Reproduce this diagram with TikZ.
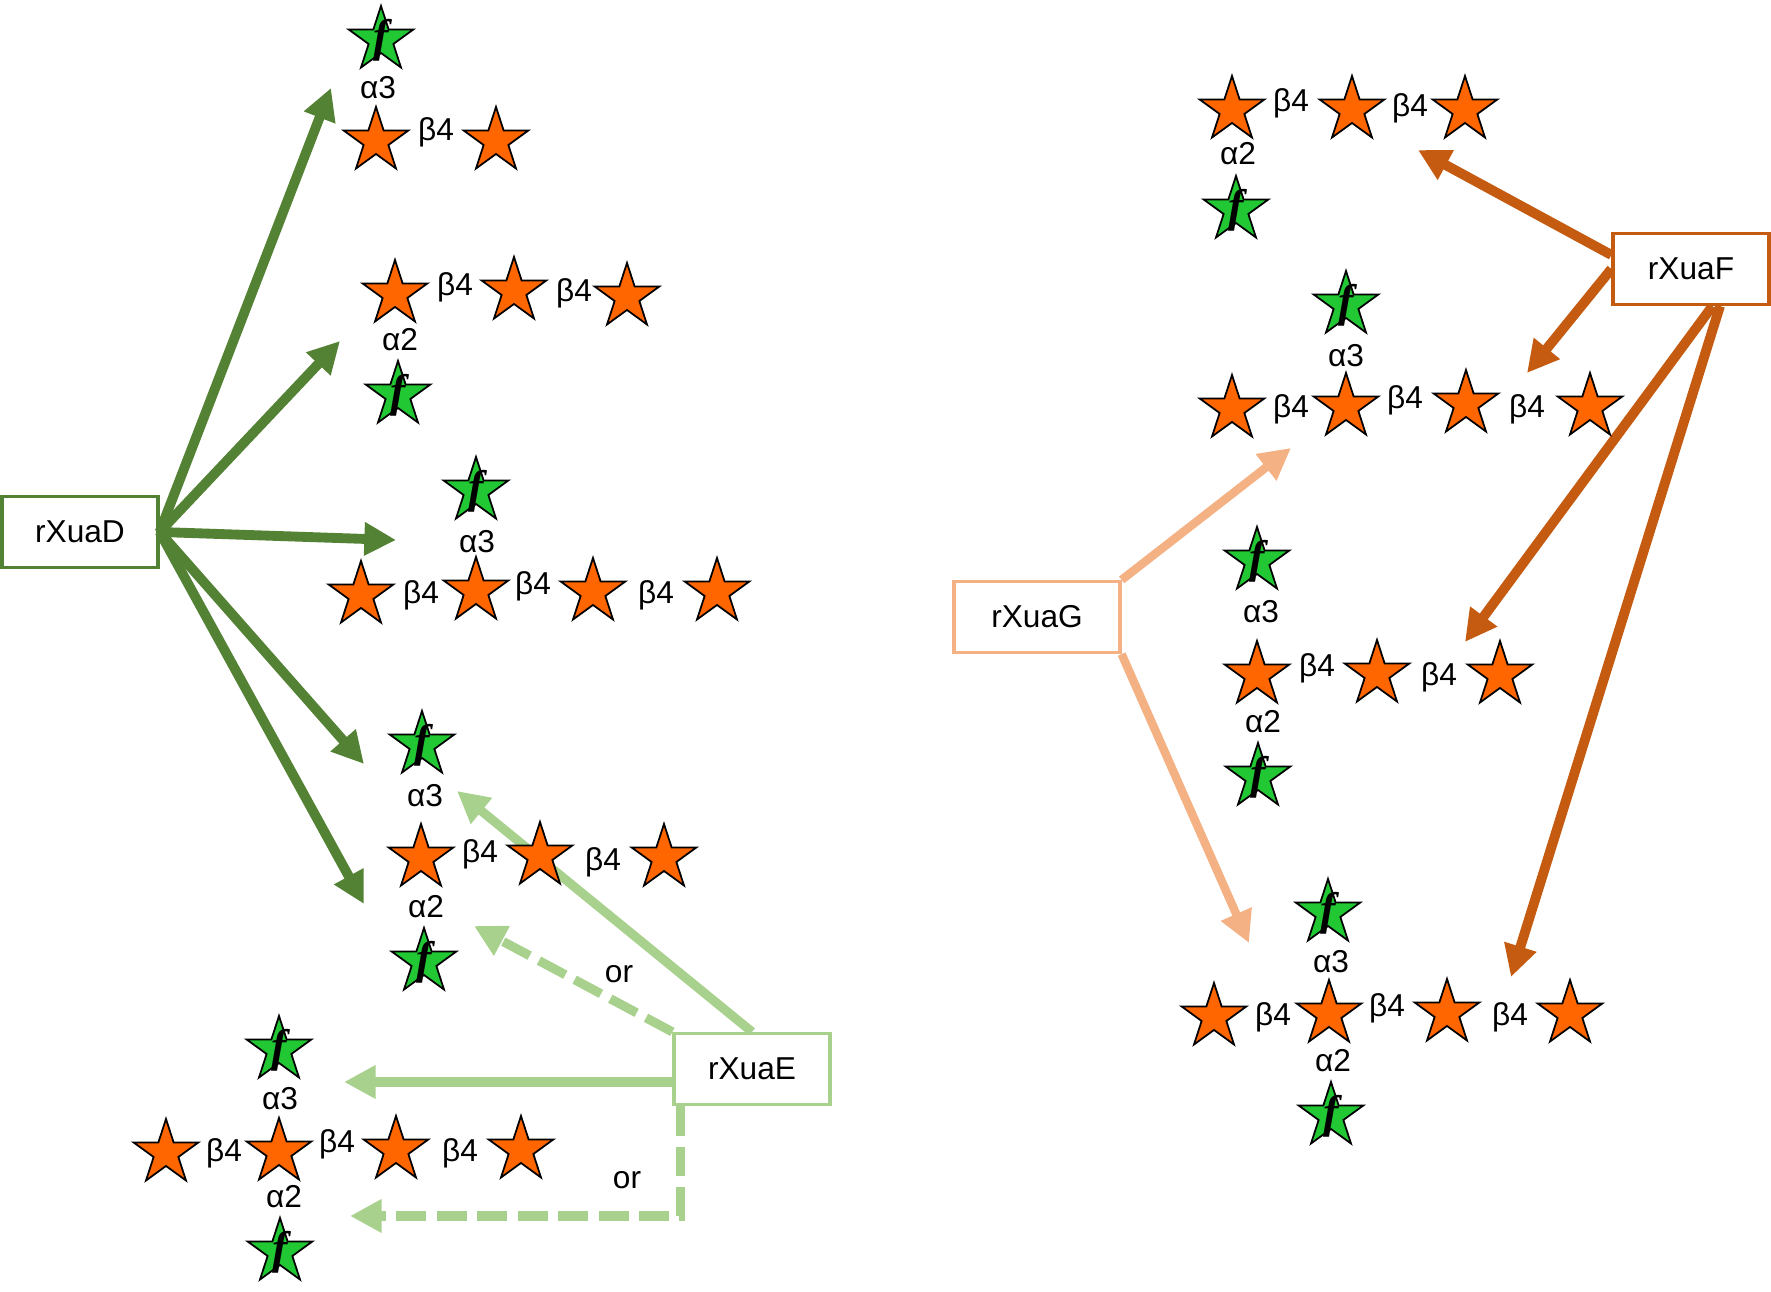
\documentclass[tikz,border=0pt]{standalone}
\usepackage{fontspec}
\setmainfont{Liberation Sans}
\newfontfamily\fserif{Liberation Serif}
\usepackage{tikz}
\usetikzlibrary{shapes.geometric,arrows.meta,calc}
\definecolor{darkG}{RGB}{84,130,53}
\definecolor{lightG}{RGB}{169,209,142}
\definecolor{darkO}{RGB}{197,90,17}
\definecolor{lightO}{RGB}{244,177,131}
\definecolor{starO}{RGB}{255,102,0}
\definecolor{starG}{RGB}{34,200,51}
\newcommand{\fuc}{{\fserif\fontsize{13}{13}\selectfont\bfseries\itshape f}}

\begin{document}
\begin{tikzpicture}[x=0.01cm,y=-0.01cm,font=\fontsize{9}{10}\selectfont,
  so/.style={star,star points=5,star point ratio=2.618,draw,line width=0.5pt,
             fill=starO,minimum size=0.68cm,inner sep=0pt},
  sg/.style={so,fill=starG,label={[inner sep=0pt]center:\fuc}},
  bx/.style={draw,fill=white,line width=0.9pt,minimum width=1.56cm,minimum height=0.71cm},
  ar/.style={line width=2.8pt,-{Triangle[length=9pt,width=9pt]}},
  dsh/.style={ar,line width=2.6pt,dash pattern=on 8.5pt off 3pt}]
  \useasboundingbox (0,0) rectangle (1771,1292);
  % enzyme boxes
  \node[bx,draw=darkG] (rXuaD) at (80,532) {rXuaD};
  \node[bx,draw=lightG] (rXuaE) at (752,1069) {rXuaE};
  \node[bx,draw=darkO] (rXuaF) at (1691,269) {rXuaF};
  \node[bx,draw=lightO,minimum width=1.66cm] (rXuaG) at (1037,617) {rXuaG};
  % arrow tips
  \coordinate (tD1) at (331,88);   \coordinate (tD2) at (340,341);
  \coordinate (tD3) at (396,540);  \coordinate (tD4) at (364,764);
  \coordinate (tD5) at (364,904);
  \coordinate (tE1) at (457,791);  \coordinate (tE2) at (474,926);
  \coordinate (tE3) at (344,1082); \coordinate (tE4) at (350,1216);
  \coordinate (tF1) at (1418,150); \coordinate (tF2) at (1527,373);
  \coordinate (tF3) at (1465,642); \coordinate (tF4) at (1511,977);
  \coordinate (tG1) at (1291,448); \coordinate (tG2) at (1249,943);
  % rXuaD arrows
  \foreach \t in {tD1,tD2,tD3,tD4,tD5}
    \draw[ar,darkG] (rXuaD.east) -- (\t);
  % rXuaE arrows
  \draw[ar,line width=2.6pt,lightG] (rXuaE.north) -- (tE1);
  \draw[dsh,lightG] (rXuaE.north west) -- (tE2);
  \draw[ar,line width=2.6pt,lightG] (rXuaE.west |- tE3) -- (tE3);
  \draw[dsh,lightG] ($(rXuaE.south west)+(8,0)$) |- (tE4);
  \node (or1) at (619,974) {or};
  \node (or2) at (627,1180) {or};
  % rXuaF arrows
  \draw[ar,darkO] (rXuaF.170) -- (tF1);
  \draw[ar,darkO] (rXuaF.west) -- (tF2);
  \draw[ar,darkO] (rXuaF.-60) -- (tF3);
  \draw[ar,darkO] (rXuaF.-52) -- (tF4);
  % rXuaG arrows
  \draw[ar,line width=2.4pt,lightO] (rXuaG.north east) -- (tG1);
  \draw[ar,line width=2.4pt,lightO] (rXuaG.south east) -- (tG2);
  % D1: alpha3 branch, two cores
  \node[sg] (d1g) at (381,40) {};
  \node (d1a) at (378,88) {α3};
  \node[so] (d1s1) at (376,141) {}; \node (d1b1) at (436,132) {β4};
  \node[so] (d1s2) at (496,141) {};
  % D2: three cores, alpha2 branch
  \node[so] (d2s1) at (395,294) {}; \node (d2b1) at (455,287) {β4};
  \node[so] (d2s2) at (514,291) {}; \node (d2b2) at (574,293) {β4};
  \node[so] (d2s3) at (627,297) {};
  \node (d2a) at (400,340) {α2};
  \node[sg] (d2g) at (398,395) {};
  % D3: four cores, alpha3 branch
  \node[sg] (d3g) at (476,491) {};
  \node (d3a) at (477,542) {α3};
  \node[so] (d3s1) at (361,595) {}; \node (d3b1) at (421,595) {β4};
  \node[so] (d3s2) at (476,591) {}; \node (d3b2) at (533,586) {β4};
  \node[so] (d3s3) at (593,592) {}; \node (d3b3) at (656,595) {β4};
  \node[so] (d3s4) at (717,592) {};
  % D4: three cores, alpha3 and alpha2 branches
  \node[sg] (d4g1) at (422,745) {};
  \node (d4a1) at (425,796) {α3};
  \node[so] (d4s1) at (421,858) {}; \node (d4b1) at (480,854) {β4};
  \node[so] (d4s2) at (540,856) {}; \node (d4b2) at (603,862) {β4};
  \node[so] (d4s3) at (664,858) {};
  \node (d4a2) at (426,907) {α2};
  \node[sg] (d4g2) at (424,962) {};
  % E: four cores, both branches
  \node[sg] (e1g1) at (279,1050) {};
  \node (e1a1) at (280,1099) {α3};
  \node[so] (e1s1) at (166,1153) {}; \node (e1b1) at (224,1153) {β4};
  \node[so] (e1s2) at (279,1152) {}; \node (e1b2) at (337,1144) {β4};
  \node[so] (e1s3) at (396,1150) {}; \node (e1b3) at (460,1153) {β4};
  \node[so] (e1s4) at (521,1150) {};
  \node (e1a2) at (284,1197) {α2};
  \node[sg] (e1g2) at (280,1252) {};
  % F1: three cores, alpha2 branch
  \node[so] (f1s1) at (1232,110) {}; \node (f1b1) at (1291,103) {β4};
  \node[so] (f1s2) at (1352,110) {}; \node (f1b2) at (1410,108) {β4};
  \node[so] (f1s3) at (1465,110) {};
  \node (f1a) at (1238,154) {α2};
  \node[sg] (f1g) at (1236,210) {};
  % F2: four cores, alpha3 branch
  \node[sg] (f2g) at (1346,305) {};
  \node (f2a) at (1346,356) {α3};
  \node[so] (f2s1) at (1232,409) {}; \node (f2b1) at (1291,409) {β4};
  \node[so] (f2s2) at (1346,407) {}; \node (f2b2) at (1405,400) {β4};
  \node[so] (f2s3) at (1466,404) {}; \node (f2b3) at (1527,409) {β4};
  \node[so] (f2s4) at (1590,407) {};
  % G1: three cores, both branches
  \node[sg] (g1g1) at (1257,561) {};
  \node (g1a1) at (1261,612) {α3};
  \node[so] (g1s1) at (1257,675) {}; \node (g1b1) at (1317,668) {β4};
  \node[so] (g1s2) at (1377,674) {}; \node (g1b2) at (1439,677) {β4};
  \node[so] (g1s3) at (1500,675) {};
  \node (g1a2) at (1263,722) {α2};
  \node[sg] (g1g2) at (1258,777) {};
  % G2: four cores, both branches
  \node[sg] (g2g1) at (1328,913) {};
  \node (g2a1) at (1331,962) {α3};
  \node[so] (g2s1) at (1214,1017) {}; \node (g2b1) at (1273,1017) {β4};
  \node[so] (g2s2) at (1329,1014) {}; \node (g2b2) at (1387,1008) {β4};
  \node[so] (g2s3) at (1447,1013) {}; \node (g2b3) at (1510,1017) {β4};
  \node[so] (g2s4) at (1570,1014) {};
  \node (g2a2) at (1333,1061) {α2};
  \node[sg] (g2g2) at (1331,1116) {};
\end{tikzpicture}
\end{document}
